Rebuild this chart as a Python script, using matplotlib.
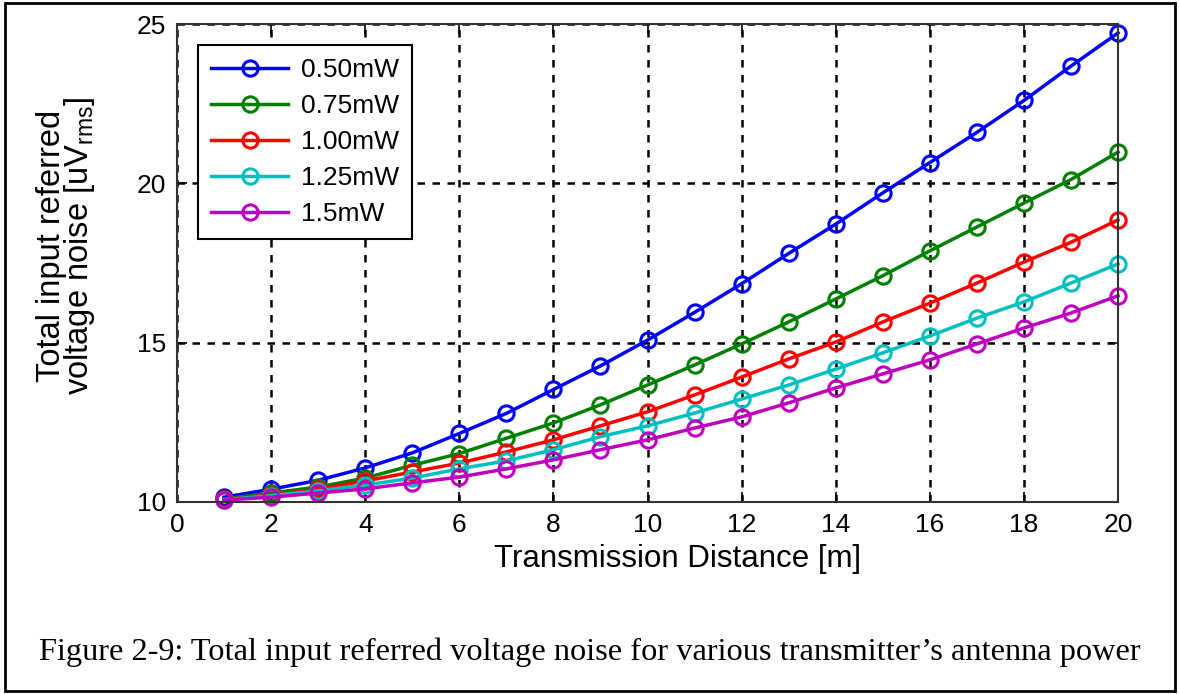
import matplotlib.pyplot as plt
from matplotlib.patches import Rectangle

# Data
distance = list(range(1, 21))  # transmission distance (m)

noise_050 = [10.15, 10.4, 10.68, 11.07, 11.54, 12.15, 12.78, 13.53, 14.27, 15.08,
             15.95, 16.85, 17.8, 18.72, 19.7, 20.65, 21.6, 22.6, 23.68, 24.72]
noise_075 = [10.1, 10.28, 10.47, 10.75, 11.15, 11.52, 12.0, 12.48, 13.05, 13.67,
             14.3, 14.96, 15.65, 16.37, 17.1, 17.88, 18.63, 19.38, 20.12, 20.98]
noise_100 = [10.08, 10.22, 10.4, 10.66, 10.94, 11.22, 11.57, 11.95, 12.39, 12.83,
             13.36, 13.92, 14.49, 15.02, 15.65, 16.24, 16.87, 17.53, 18.15, 18.85]
noise_125 = [10.07, 10.2, 10.35, 10.53, 10.75, 11.04, 11.29, 11.64, 12.05, 12.39,
             12.79, 13.23, 13.67, 14.17, 14.68, 15.21, 15.77, 16.28, 16.87, 17.47]
noise_150 = [10.06, 10.15, 10.28, 10.41, 10.6, 10.78, 11.04, 11.32, 11.64, 11.95,
             12.32, 12.67, 13.11, 13.58, 14.02, 14.46, 14.96, 15.46, 15.93, 16.47]

labels = ['0.50mW', '0.75mW', '1.00mW', '1.25mW', '1.5mW']
colors = ['#0000ff', '#008000', '#ff0000', '#00bfbf', '#bf00bf']
series = [noise_050, noise_075, noise_100, noise_125, noise_150]

x_ticks = list(range(0, 21, 2))
y_ticks = [10, 15, 20, 25]

plt.rcParams['font.family'] = ['Liberation Sans', 'DejaVu Sans']

fig = plt.figure(figsize=(11.8, 6.94), dpi=100)
ax = fig.add_axes([0.15, 0.2767, 0.7975, 0.6887])

for vals, lab, col in zip(series, labels, colors):
    ax.plot(distance, vals, color=col, lw=2.5, marker='o', markersize=11,
            markerfacecolor='none', markeredgewidth=2.2, label=lab, clip_on=False)

ax.set_xlim(0, 20)
ax.set_ylim(10, 25)
ax.set_xticks(x_ticks)
ax.set_yticks(y_ticks)
ax.tick_params(direction='in', top=True, right=True, length=7, width=1.2,
               labelsize=19, pad=8)
ax.grid(True, color='black', linestyle=(0, (3, 3)), lw=1.8)
for s in ax.spines.values():
    s.set_linewidth(1.5)
    s.set_color('#333333')

ax.set_xlabel('Transmission Distance [m]', fontsize=22.5)
ax.xaxis.set_label_coords(0.532, -0.088)
ax.set_ylabel('Total input referred\nvoltage noise [uV$_{\\mathregular{rms}}$]',
              fontsize=23.5, linespacing=0.82)
ax.yaxis.set_label_coords(-0.085, 0.535)

leg = ax.legend(loc='upper left', fontsize=19, frameon=True, fancybox=False,
                edgecolor='black', framealpha=1, handlelength=2.9,
                borderaxespad=0.8, labelspacing=0.45, handletextpad=0.5,
                borderpad=0.5)
leg.get_frame().set_linewidth(1.5)

fig.text(0.5, 0.06, 'Figure 2-9: Total input referred voltage noise for various transmitter\u2019s antenna power',
         ha='center', va='center', fontsize=23.3, family=['Liberation Serif', 'DejaVu Serif'])

fig.patches.append(Rectangle((0.004, 0.005), 0.992, 0.99, transform=fig.transFigure,
                             fill=False, edgecolor='black', lw=2))

fig.savefig('out.png', dpi=100)
